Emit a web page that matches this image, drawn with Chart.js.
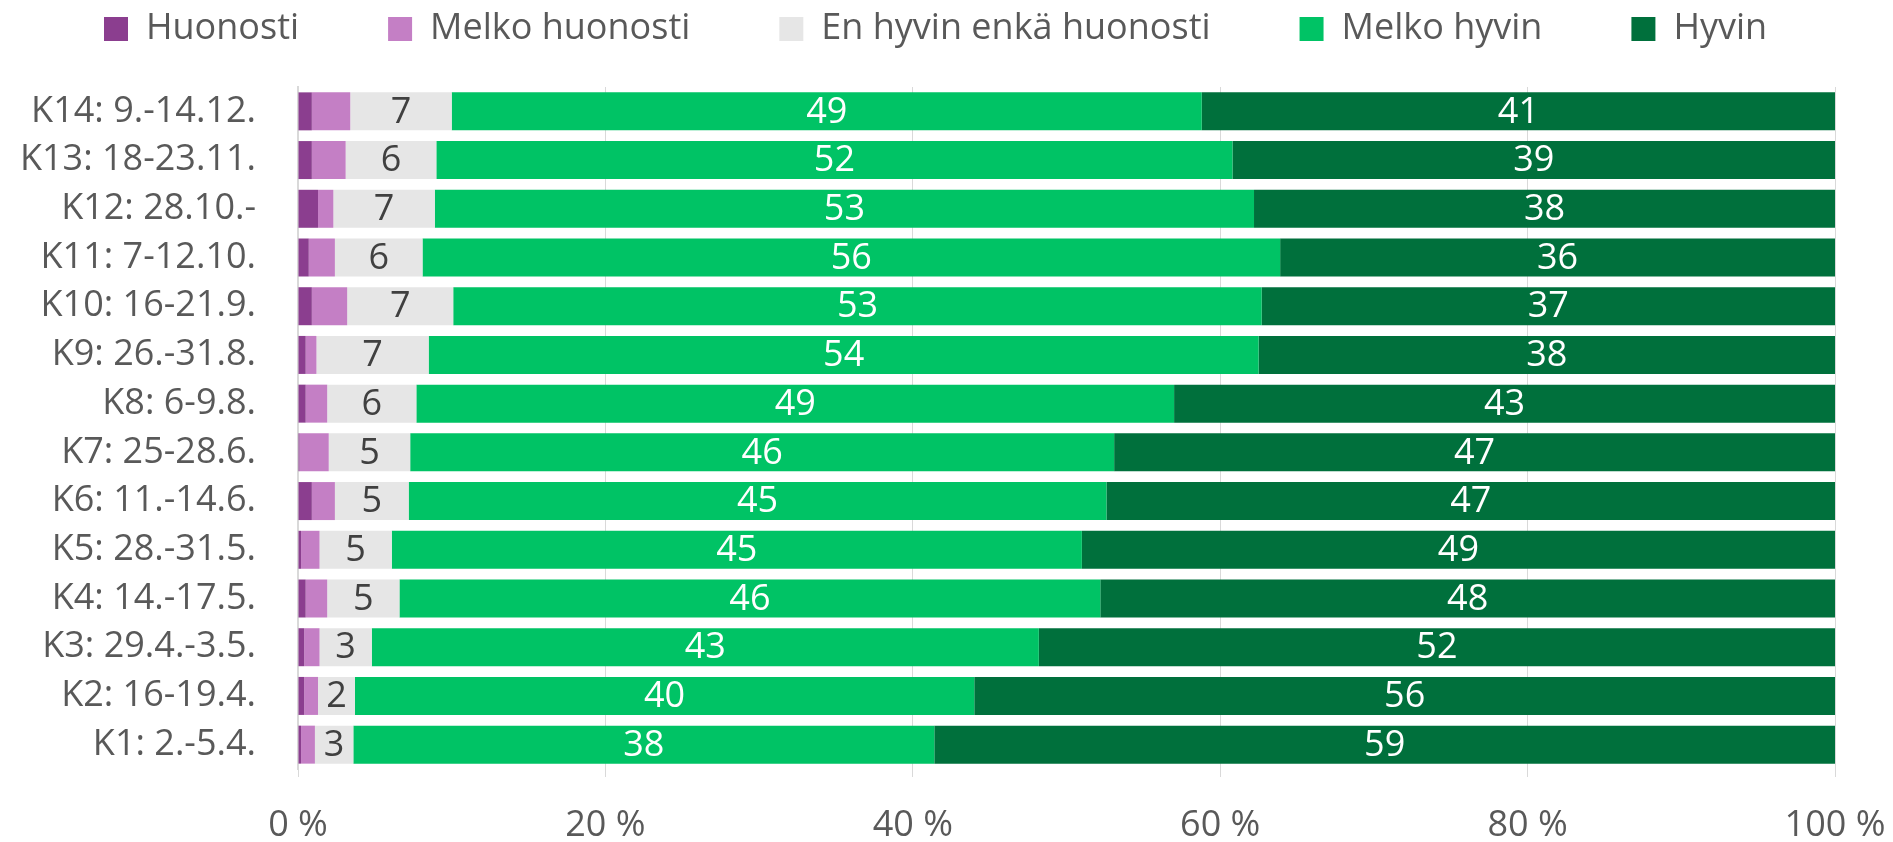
<!DOCTYPE html>
<html lang="fi">
<head>
    <meta charset="UTF-8">
    <title>Kyselykierrokset</title>
    <script src="https://cdn.jsdelivr.net/npm/chart.js"></script>
    <style>
        html, body { margin: 0; padding: 0; background: #fff; }
        #wrap { width: 1893px; height: 842px; }
    </style>
</head>
<body>
    <div id="wrap"><canvas id="chart" width="1893" height="842"></canvas></div>

    <script>
        // rounds K1..K14
        const categories = ['K1: 2.-5.4.', 'K2: 16-19.4.', 'K3: 29.4.-3.5.', 'K4: 14.-17.5.', 'K5: 28.-31.5.',
            'K6: 11.-14.6.', 'K7: 25-28.6.', 'K8: 6-9.8.', 'K9: 26.-31.8.', 'K10: 16-21.9.',
            'K11: 7-12.10.', 'K12: 28.10.-', 'K13: 18-23.11.', 'K14: 9.-14.12.'];

        const huonosti      = [0.2, 0.4, 0.4, 0.5, 0.2, 0.9, 0.1, 0.5, 0.5, 0.9, 0.7, 1.3, 0.9, 0.9];
        const melkoHuonosti = [0.9, 0.9, 1.0, 1.4, 1.2, 1.5, 1.9, 1.4, 0.7, 2.3, 1.7, 1.0, 2.2, 2.5];
        const enHyvinEnka   = [2.5, 2.4, 3.4, 4.7, 4.7, 4.8, 5.3, 5.8, 7.3, 6.9, 5.7, 6.6, 5.9, 6.6];
        const melkoHyvin    = [37.8, 40.3, 43.4, 45.6, 44.9, 45.4, 45.8, 49.3, 54.0, 52.6, 55.8, 53.3, 51.8, 48.8];
        const hyvin         = [58.6, 56.0, 51.8, 47.8, 49.0, 47.4, 46.9, 43.0, 37.5, 37.3, 36.1, 37.8, 39.2, 41.2];

        const xTicks = [0, 20, 40, 60, 80, 100];

        const FONT = "'Open Sans', sans-serif";
        const TEXT = '#595959';
        const SIZE = 36;

        // value labels in the middle of each segment (only for the three big groups)
        const segmentLabels = {
            id: 'segmentLabels',
            beforeInit(chart) {
                // extra room between legend and bars
                const fit = chart.legend.fit;
                chart.legend.fit = function () { fit.call(this); this.height += 30; };
            },
            afterDatasetsDraw(chart) {
                const ctx = chart.ctx;
                ctx.save();
                ctx.font = SIZE + 'px ' + FONT;
                ctx.textAlign = 'center';
                ctx.textBaseline = 'middle';
                chart.data.datasets.forEach((ds, i) => {
                    if (!ds.showLabel) return;
                    chart.getDatasetMeta(i).data.forEach((bar, j) => {
                        ctx.fillStyle = ds.labelColor;
                        ctx.fillText(Math.round(ds.data[j]), (bar.x + bar.base) / 2, bar.y + 1);
                    });
                });
                ctx.restore();
            }
        };

        const ctx = document.getElementById('chart').getContext('2d');
        new Chart(ctx, {
            type: 'bar',
            data: {
                labels: categories,
                datasets: [
                    { label: 'Huonosti', data: huonosti, backgroundColor: '#8b3e8f' },
                    { label: 'Melko huonosti', data: melkoHuonosti, backgroundColor: '#c47fc5' },
                    { label: 'En hyvin enkä huonosti', data: enHyvinEnka, backgroundColor: '#e6e6e6',
                        showLabel: true, labelColor: '#404040' },
                    { label: 'Melko hyvin', data: melkoHyvin, backgroundColor: '#00c365',
                        showLabel: true, labelColor: '#ffffff' },
                    { label: 'Hyvin', data: hyvin, backgroundColor: '#00703c',
                        showLabel: true, labelColor: '#ffffff' }
                ]
            },
            options: {
                indexAxis: 'y',
                responsive: false,
                animation: false,
                categoryPercentage: 1,
                barPercentage: 0.78,
                layout: { padding: { top: -78, right: 0, left: 15, bottom: 0 } },
                scales: {
                    x: {
                        stacked: true,
                        min: 0,
                        max: 100,
                        afterBuildTicks: s => { s.ticks = xTicks.map(v => ({ value: v })); },
                        afterFit: s => { s.height = 73; s.paddingRight = 58; s.paddingLeft = 0; },
                        border: { display: false },
                        grid: { color: '#d9d9d9', lineWidth: 1, tickLength: 8 },
                        ticks: {
                            color: TEXT,
                            font: { family: FONT, size: SIZE },
                            padding: 27,
                            maxRotation: 0,
                            callback: v => v + ' %'
                        }
                    },
                    y: {
                        stacked: true,
                        reverse: true,
                        afterFit: s => { s.width = 283; },
                        border: { display: true, color: '#d9d9d9', width: 2 },
                        grid: { display: false, drawTicks: false },
                        ticks: {
                            color: TEXT,
                            font: { family: FONT, size: SIZE },
                            padding: 42,
                            autoSkip: false
                        }
                    }
                },
                plugins: {
                    legend: {
                        position: 'top',
                        align: 'start',
                        labels: {
                            color: TEXT,
                            font: { family: FONT, size: SIZE },
                            boxWidth: 24,
                            boxHeight: 24,
                            padding: 89
                        }
                    },
                    tooltip: { enabled: false }
                }
            },
            plugins: [segmentLabels]
        });
    </script>
</body>
</html>
